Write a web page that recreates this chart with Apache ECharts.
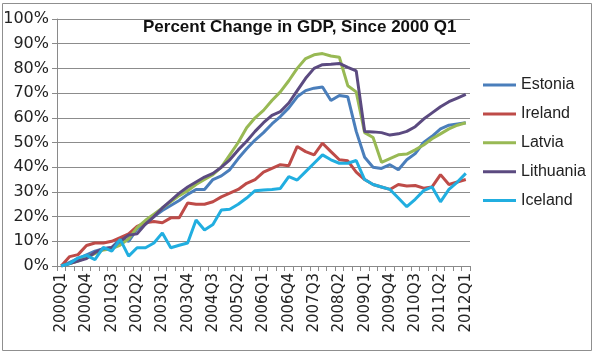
<!DOCTYPE html>
<html><head><meta charset="utf-8">
<script src="https://cdn.jsdelivr.net/npm/echarts@6/dist/echarts.min.js"></script>
<style>html,body{margin:0;padding:0;background:#fff}#c{width:596px;height:354px}</style>
</head><body><div id="c"></div>
<script>
const categories = ["2000Q1","2000Q2","2000Q3","2000Q4","2001Q1","2001Q2","2001Q3","2001Q4","2002Q1","2002Q2","2002Q3","2002Q4","2003Q1","2003Q2","2003Q3","2003Q4","2004Q1","2004Q2","2004Q3","2004Q4","2005Q1","2005Q2","2005Q3","2005Q4","2006Q1","2006Q2","2006Q3","2006Q4","2007Q1","2007Q2","2007Q3","2007Q4","2008Q1","2008Q2","2008Q3","2008Q4","2009Q1","2009Q2","2009Q3","2009Q4","2010Q1","2010Q2","2010Q3","2010Q4","2011Q1","2011Q2","2011Q3","2011Q4","2012Q1"];
const estonia = [0,1.5,3,4.5,6,7,7.5,11,10,15,17,20,22.5,24.5,26.5,29,31,31,35,36.5,39,43.5,47.5,51,54,57.5,60.5,64,68.5,71,72,72.5,67,69,68.5,54.5,44,40,39.5,41,39,43,45.5,50,52.5,55.5,57,57.5,58];
const ireland = [0,3.8,4.6,8.3,9.3,9.3,10,11.5,13,16,17.5,18,17.5,19.5,19.5,25.5,25,25,26,28,29.5,31,33.5,35,38,39.5,41,40.6,48.4,46.3,45,49.7,46.3,43,42.6,38,35,33,32,31,33,32.4,32.6,31.5,32,37,33,34,35];
const latvia = [0,1,2,3.5,5,6.5,7,8.5,11,15.5,18.5,21,23.5,26,28.5,30.5,33,35,37,40,45,50,56,60,63,67,70.5,75,80,84,85.5,86,85,84.5,73,70.5,54,52,42,43.5,45,45.3,47,49,51.5,53.5,55.5,57,58];
const lithuania = [0,1,2,3,5.5,7,7.5,10,12.5,13,17,20,23.5,26.5,29.5,32,34,36,37.5,40,43,47,50.5,54.5,58,61,62.5,66,71,76,80,81.5,81.7,82,80.4,79,54.5,54.3,54,53,53.5,54.5,56.4,59.5,62,64.5,66.5,68,69.5];
const iceland = [0,1,3.3,4.3,2.6,7.5,6,10.8,4,7.4,7.4,9.3,13.4,7.4,8.4,9.3,18.6,14.6,16.8,22.7,23,25,27.5,30.5,30.8,31,31.4,36.2,34.8,38.2,41.6,45,43,41.6,41.6,42.7,35,33,32,31,27.5,24,27,30.5,32,26,31,34,37.5];
const seriesNames = ["Estonia","Ireland","Latvia","Lithuania","Iceland"];
const seriesData = [estonia, ireland, latvia, lithuania, iceland];
const colors = ["#4A7EBB","#BE4B48","#98B954","#5B4A80","#21AEE0"];
const titleText = "Percent Change in GDP, Since 2000 Q1";

const chart = echarts.init(document.getElementById('c'), null, {renderer:'canvas'});
chart.setOption({
  animation:false,
  color: colors,
  graphic:[{type:'rect', shape:{x:2.5,y:3.5,width:589,height:347}, style:{fill:'none', stroke:'#8f8f8f', lineWidth:1}, silent:true}],
  title:{text:titleText, left:138, top:14, textStyle:{fontFamily:'Liberation Sans', fontSize:17, fontWeight:'bold', color:'#111'}},
  legend:{orient:'vertical', left:483, top:77, padding:0, icon:'rect', itemWidth:33, itemHeight:3, itemGap:12.9,
    textStyle:{fontFamily:'Liberation Sans', fontSize:16, lineHeight:16, color:'#222'}},
  grid:{left:57, right:126, top:19, bottom:88},
  xAxis:{type:'category', data:categories, boundaryGap:true,
    axisLine:{lineStyle:{color:'#8a8a8a', width:1}},
    axisTick:{show:true, interval:0, length:5, lineStyle:{color:'#8a8a8a'}},
    axisLabel:{interval:2, rotate:90, margin:7, fontFamily:'DejaVu Sans', fontSize:15, color:'#222'},
    splitLine:{show:false}},
  yAxis:{type:'value', min:0, max:100, interval:10,
    axisLine:{show:true, lineStyle:{color:'#8a8a8a'}},
    axisTick:{show:true, length:5, lineStyle:{color:'#8a8a8a'}},
    axisLabel:{formatter:'{value}%', margin:8, fontFamily:'DejaVu Sans', fontSize:16, color:'#222'},
    splitLine:{lineStyle:{color:'#8c8c8c', width:1}}},
  series: seriesNames.map((n,i)=>({name:n, type:'line', data:seriesData[i], symbol:'none', lineStyle:{width:3}}))
});
</script></body></html>
